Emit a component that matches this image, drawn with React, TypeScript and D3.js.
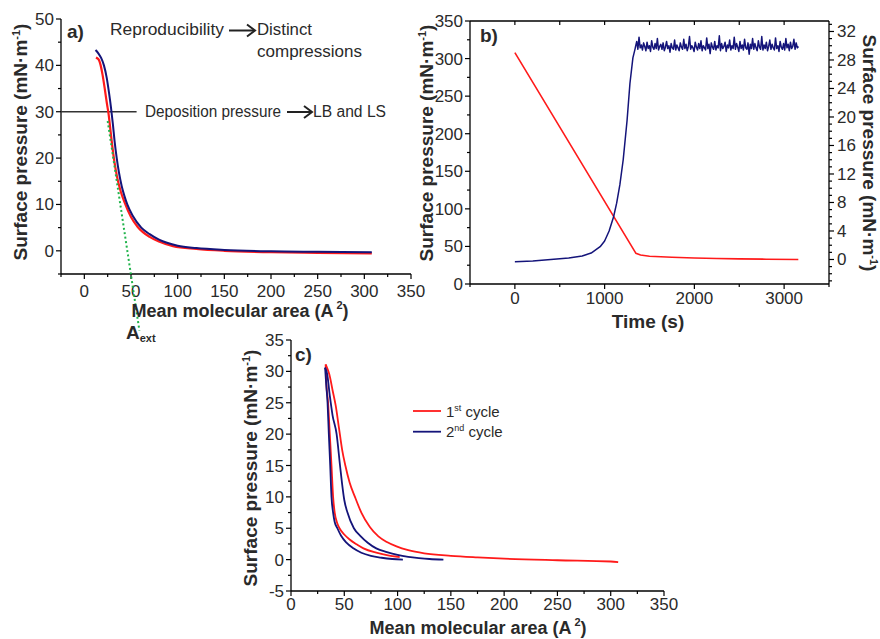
import React from "react";
import * as d3 from "d3";

const FONT = "'Liberation Sans', Arial, Helvetica, sans-serif";
const RED = "#ff1a1a";
const BLUE = "#14147a";
const GREEN = "#1fb34a";
const TXT = "#2a2a2a";

// ---------- Panel a ----------
const aRed: [number, number][] = [
  [12.5, 41.7], [14, 41.5], [16, 41], [17.5, 40], [19.5, 38], [22, 34.8], [24, 32], [26, 29.5],
  [28, 26], [30, 22.5], [32, 19.5], [35, 16], [39, 12.8], [43, 10.5], [50, 7.3], [57, 5.2],
  [70, 3], [80, 2], [95, 1], [120, 0.4], [150, 0], [200, -0.3], [250, -0.45], [308, -0.55],
];
const aBlue: [number, number][] = [
  [12, 43.3], [15, 42.6], [18, 41.6], [21, 40], [24, 37.3], [26.5, 34], [28.5, 31], [30.5, 27.5],
  [32.5, 23.5], [34.7, 20], [37, 17], [40, 14], [43, 11.8], [46, 10], [52, 7.5], [61, 5],
  [70, 3.6], [80, 2.4], [100, 1.1], [120, 0.6], [150, 0.2], [200, -0.1], [250, -0.2], [308, -0.3],
];
const aExtrapolation: [number, number][] = [[25, 28], [59, -17.2]];
const aDeposition = 30;
const aDepositionLineEnd = 56;
const aXTicks = [0, 50, 100, 150, 200, 250, 300, 350];
const aXMinor = [-25, 25, 75, 125, 175, 225, 275, 325];
const aYTicks = [0, 10, 20, 30, 40, 50];
const aYMinor = [-5, 5, 15, 25, 35, 45];

// ---------- Panel b ----------
const bArea: [number, number][] = [
  [0, 308], [1349, 40.8], [1400, 38.5], [1500, 37], [1750, 35.5], [2000, 34.6],
  [2250, 34], [2500, 33.5], [2800, 33], [3158, 32.6],
];
const bRise: [number, number][] = [
  [0, -0.3], [200, -0.2], [400, 0], [600, 0.2], [750, 0.5], [850, 0.9], [950, 1.8],
  [1000, 2.6], [1050, 4], [1100, 6], [1134, 7.9], [1170, 10.5], [1207, 14], [1250, 19.5],
  [1282, 24.7], [1315, 28.3], [1340, 29.6],
];
const bPlateauStart = 1345;
const bPlateauEnd = 3160;
const bPlateau = [
  29.9, 30.6, 29.5, 31.2, 29.7, 30.1, 29.4, 30.4, 29.9, 29.3, 30.5, 29.6, 30.0, 29.2, 30.7, 29.8, 29.5, 30.3, 29.6, 31.0,
  29.4, 29.9, 30.2, 29.5, 30.4, 29.3, 29.8, 30.6, 29.6, 30.0, 29.1, 30.3, 29.7, 29.5, 30.8, 29.4, 30.1, 29.7, 29.3, 30.4,
  29.8, 29.5, 30.9, 29.6, 30.2, 29.3, 29.9, 31.3, 29.5, 30.0, 29.7, 29.2, 30.5, 29.8, 29.4, 30.3, 29.6, 30.7, 29.3, 30.0,
  29.7, 29.4, 31.1, 29.6, 30.2, 28.9, 30.4, 29.8, 29.5, 30.6, 29.4, 30.0, 29.7, 31.4, 29.3, 30.3, 29.6, 29.9, 30.5, 29.2,
  30.1, 29.7, 30.8, 29.4, 30.0, 29.6, 31.2, 29.5, 30.3, 29.8, 29.2, 30.6, 29.6, 30.1, 29.4, 30.9, 29.7, 29.5, 30.4, 28.8,
  30.2, 29.6, 31.0, 29.5, 30.3, 29.7, 29.3, 30.7, 29.8, 29.5, 31.3, 29.4, 30.1, 29.6, 30.5, 29.3, 29.9, 30.8, 29.5, 30.2,
  29.7, 29.4, 31.1, 29.6, 30.0, 29.2, 30.6, 29.8, 29.5, 30.3, 29.4, 31.0, 29.7, 30.2, 29.3, 30.5, 29.6, 29.9, 30.9, 29.5,
  30.4, 29.7, 29.9,
];
const bXTicks = [0, 1000, 2000, 3000];
const bXMinor = [-500, 500, 1500, 2500, 3500];
const bTopTicks = [0, 500, 1000, 1500, 2000, 2500, 3000];
const bYLTicks = [0, 50, 100, 150, 200, 250, 300, 350];
const bYLMinor = [25, 75, 125, 175, 225, 275, 325];
const bYRTicks = [0, 4, 8, 12, 16, 20, 24, 28, 32];
const bYRMinor = [-3, -2, -1, 1, 2, 3, 5, 6, 7, 9, 10, 11, 13, 14, 15, 17, 18, 19, 21, 22, 23, 25, 26, 27, 29, 30, 31, 33];

// ---------- Panel c ----------
const cRedCompression: [number, number][] = [
  [32.5, 31.1], [34, 30.5], [36, 29.5], [39, 27], [42, 24.5], [45, 21], [48, 17.5], [51, 15],
  [55, 12.3], [60, 10], [66, 7.5], [74, 5.2], [82, 3.7], [90, 2.8], [99, 2.1], [110, 1.5],
  [125, 1.0], [150, 0.6], [175, 0.35], [200, 0.15], [250, -0.1], [300, -0.3], [307, -0.4],
];
const cRedExpansion: [number, number][] = [
  [32.5, 31.1], [33.2, 28], [34.8, 25], [36.4, 20], [38, 15], [39.5, 10], [41, 7.5], [43, 6],
  [45.5, 5], [50, 4], [55, 3.2], [62, 2.4], [68, 1.8], [80, 1.1], [90, 0.7], [102, 0.4],
];
const cBlueCompression: [number, number][] = [
  [32, 30.6], [34, 29.5], [36.5, 26], [39, 23], [42.8, 20], [46, 15], [48, 12], [50, 9.5],
  [53, 7.5], [59, 5], [65, 3.8], [72, 2.7], [80, 1.8], [90, 1.2], [100, 0.75], [110, 0.45],
  [120, 0.25], [130, 0.1], [143, 0],
];
const cBlueExpansion: [number, number][] = [
  [32, 30.6], [33, 28], [34.3, 25], [35.5, 20], [36.8, 15], [38, 10], [39.5, 7.5], [41, 6],
  [43.5, 5], [47, 3.8], [52, 2.7], [58.5, 1.8], [66, 1.1], [75, 0.6], [85, 0.3], [95, 0.1], [105, 0],
];
const cXTicks = [0, 50, 100, 150, 200, 250, 300, 350];
const cXMinor = [25, 75, 125, 175, 225, 275, 325];
const cYTicks = [-5, 0, 5, 10, 15, 20, 25, 30, 35];
const cYMinor = [-2.5, 2.5, 7.5, 12.5, 17.5, 22.5, 27.5, 32.5];
const cLegend = ["1st cycle", "2nd cycle"];

// scales
const ax = d3.scaleLinear().domain([-25, 350]).range([61, 411]);
const ay = d3.scaleLinear().domain([-5, 50]).range([274, 19]);
const bx = d3.scaleLinear().domain([-500, 3500]).range([470, 829]);
const byL = d3.scaleLinear().domain([0, 350]).range([284, 21]);
const byR = d3.scaleLinear().domain([-3.44, 33.47]).range([284, 21]);
const cx = d3.scaleLinear().domain([0, 350]).range([291, 664]);
const cy = d3.scaleLinear().domain([-5, 35]).range([591, 340]);

const smoothLine = (sx: any, sy: any) => (pts: [number, number][]) =>
  d3
    .line<[number, number]>()
    .x((d) => sx(d[0]))
    .y((d) => sy(d[1]))
    .curve(d3.curveMonotoneX)([...pts].sort((p, q) => p[0] - q[0])) || "";

const TICK = 17;

function XAxis({ s, y, ticks, minor, labelDy }: any) {
  const [r0, r1] = s.range();
  return (
    <g>
      <line x1={r0} x2={r1} y1={y} y2={y} stroke="#000" strokeWidth={1.3} />
      {ticks.map((t: number) => (
        <g key={"M" + t}>
          <line x1={s(t)} x2={s(t)} y1={y} y2={y + 5} stroke="#000" strokeWidth={1.2} />
          <text x={s(t)} y={y + labelDy} textAnchor="middle" fontSize={TICK} fill={TXT} fontFamily={FONT}>
            {t}
          </text>
        </g>
      ))}
      {minor.map((t: number) => (
        <line key={"m" + t} x1={s(t)} x2={s(t)} y1={y} y2={y + 3} stroke="#000" strokeWidth={1.2} />
      ))}
    </g>
  );
}

function YAxis({ s, x, ticks, minor, side = -1, labelGap = 7 }: any) {
  const [r0, r1] = s.range();
  return (
    <g>
      <line x1={x} x2={x} y1={r0} y2={r1} stroke="#000" strokeWidth={1.3} />
      {ticks.map((t: number) => (
        <g key={"M" + t}>
          <line x1={x} x2={x + side * 5} y1={s(t)} y2={s(t)} stroke="#000" strokeWidth={1.2} />
          <text
            x={x + side * labelGap}
            y={s(t) + 6}
            textAnchor={side < 0 ? "end" : "start"}
            fontSize={TICK}
            fill={TXT}
            fontFamily={FONT}
          >
            {t}
          </text>
        </g>
      ))}
      {minor.map((t: number) => (
        <line key={"m" + t} x1={x} x2={x + side * 3} y1={s(t)} y2={s(t)} stroke="#000" strokeWidth={1.2} />
      ))}
    </g>
  );
}

function PressureTitle({ x, y, rot = -90 }: any) {
  return (
    <text
      transform={`translate(${x},${y}) rotate(${rot})`}
      textAnchor="middle"
      fontSize={19}
      fontWeight="bold"
      fill={TXT}
      fontFamily={FONT}
    >
      Surface pressure (mN·m
      <tspan dy={-7} fontSize={11}>-1</tspan>
      <tspan dy={7}>)</tspan>
    </text>
  );
}

function AreaTitle({ x, y }: any) {
  return (
    <text x={x} y={y} textAnchor="middle" fontSize={18} fontWeight="bold" fill={TXT} fontFamily={FONT}>
      Mean molecular area (A
      <tspan dy={-8} fontSize={11} dx={3}>2</tspan>
      <tspan dy={8}>)</tspan>
    </text>
  );
}

function Arrow({ x1, x2, y }: any) {
  return (
    <g stroke="#222" strokeWidth={2} fill="none">
      <line x1={x1} x2={x2 - 1} y1={y} y2={y} />
      <polyline points={`${x2 - 8},${y - 6} ${x2},${y} ${x2 - 8},${y + 6}`} strokeLinejoin="miter" />
    </g>
  );
}

function Note({ x, y, len, children }: any) {
  return (
    <text x={x} y={y} fontSize={16} fill={TXT} textLength={len} lengthAdjust="spacingAndGlyphs">
      {children}
    </text>
  );
}

export default function App() {
  const plateauX = d3
    .scaleLinear()
    .domain([0, bPlateau.length - 1])
    .range([bPlateauStart, bPlateauEnd]);
  const plateauPts: [number, number][] = bPlateau.map((v, i) => [plateauX(i), v]);
  const bBlue: [number, number][] = [...bRise, ...plateauPts];

  const aLine = smoothLine(ax, ay);
  const cLine = smoothLine(cx, cy);
  const bLineL = d3.line<[number, number]>().x((d) => bx(d[0])).y((d) => byL(d[1]));
  const bLineR = d3.line<[number, number]>().x((d) => bx(d[0])).y((d) => byR(d[1]));

  return (
    <svg
      width={880}
      height={639}
      style={{ position: "absolute", left: 0, top: 0, background: "#fff" }}
      fontFamily={FONT}
    >
      <rect width={880} height={639} fill="#fff" />

      {/* ---------------- Panel a ---------------- */}
      <XAxis s={ax} y={274} ticks={aXTicks} minor={aXMinor} labelDy={23} />
      <YAxis s={ay} x={61} ticks={aYTicks} minor={aYMinor} />
      <line x1={ax(-25)} x2={ax(aDepositionLineEnd)} y1={ay(aDeposition)} y2={ay(aDeposition)} stroke="#333" strokeWidth={1.5} />
      <path d={aLine(aRed)} fill="none" stroke={RED} strokeWidth={2.2} />
      <path d={aLine(aBlue)} fill="none" stroke={BLUE} strokeWidth={2} />
      <path
        d={d3.line<[number, number]>().x((d) => ax(d[0])).y((d) => ay(d[1]))(aExtrapolation) || ""}
        fill="none"
        stroke={GREEN}
        strokeWidth={2}
        strokeDasharray="2,2.5"
      />
      <text x={67} y={38} fontSize={19} fontWeight="bold" fill={TXT}>a)</text>
      <Note x={110} y={35} len={114}>Reproducibility</Note>
      <Arrow x1={229} x2={255} y={30.5} />
      <Note x={257} y={35} len={55}>Distinct</Note>
      <Note x={257} y={57} len={105}>compressions</Note>
      <Note x={145} y={117} len={136}>Deposition pressure</Note>
      <Arrow x1={287} x2={312} y={112} />
      <Note x={313} y={117} len={73}>LB and LS</Note>
      <PressureTitle x={27} y={142} />
      <AreaTitle x={240} y={317} />
      <text x={126} y={339} fontSize={19} fontWeight="bold" fill={TXT}>
        A<tspan fontSize={11} dy={3}>ext</tspan>
      </text>

      {/* ---------------- Panel b ---------------- */}
      <line x1={470} x2={829} y1={21} y2={21} stroke="#000" strokeWidth={1.3} />
      {bTopTicks.map((t) => (
        <line key={"bt" + t} x1={bx(t)} x2={bx(t)} y1={21} y2={25} stroke="#000" strokeWidth={1.2} />
      ))}
      <XAxis s={bx} y={284} ticks={bXTicks} minor={bXMinor} labelDy={20} />
      <YAxis s={byL} x={470} ticks={bYLTicks} minor={bYLMinor} />
      <YAxis s={byR} x={829} ticks={bYRTicks} minor={bYRMinor} side={1} labelGap={8} />
      <path d={bLineL(bArea) || ""} fill="none" stroke={RED} strokeWidth={1.6} />
      <path d={bLineR(bBlue) || ""} fill="none" stroke={BLUE} strokeWidth={1.5} strokeLinejoin="round" />
      <text x={480} y={42} fontSize={19} fontWeight="bold" fill={TXT}>b)</text>
      <PressureTitle x={433} y={143} />
      <PressureTitle x={863} y={153} rot={90} />
      <text x={648} y={328} textAnchor="middle" fontSize={19} fontWeight="bold" fill={TXT}>Time (s)</text>

      {/* ---------------- Panel c ---------------- */}
      <XAxis s={cx} y={591} ticks={cXTicks} minor={cXMinor} labelDy={19} />
      <YAxis s={cy} x={291} ticks={cYTicks} minor={cYMinor} />
      <path d={cLine(cRedCompression)} fill="none" stroke={RED} strokeWidth={1.8} />
      <path d={cLine(cRedExpansion)} fill="none" stroke={RED} strokeWidth={1.8} />
      <path d={cLine(cBlueCompression)} fill="none" stroke={BLUE} strokeWidth={1.8} />
      <path d={cLine(cBlueExpansion)} fill="none" stroke={BLUE} strokeWidth={1.8} />
      <text x={295} y={361} fontSize={19} fontWeight="bold" fill={TXT}>c)</text>
      <PressureTitle x={257} y={468} />
      <AreaTitle x={478} y={634} />
      {cLegend.map((name, i) => {
        const y = 411 + i * 20.7;
        const num = name.slice(0, 1);
        const sup = name.slice(1, 3);
        const rest = name.slice(3);
        return (
          <g key={name}>
            <line x1={413} x2={441} y1={y} y2={y} stroke={i === 0 ? RED : BLUE} strokeWidth={1.8} />
            <text x={446} y={y + 5.5} fontSize={15} fill={TXT}>
              {num}
              <tspan dy={-6} fontSize={9}>{sup}</tspan>
              <tspan dy={6}>{rest}</tspan>
            </text>
          </g>
        );
      })}
    </svg>
  );
}
